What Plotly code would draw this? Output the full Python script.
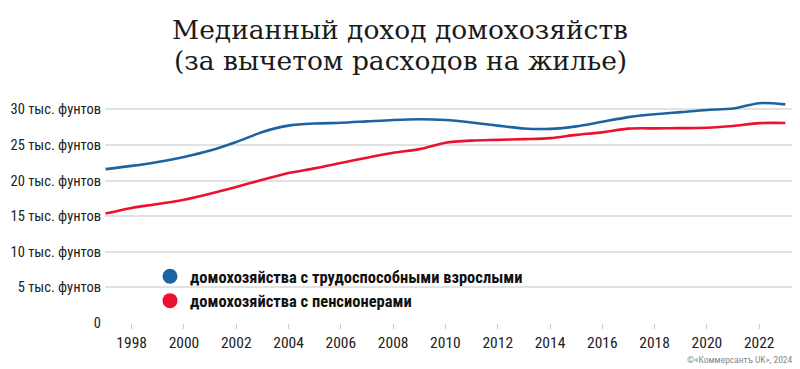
import plotly.graph_objects as go

years = list(range(1997, 2024))
working_age = [21.6, 22.05, 22.6, 23.3, 24.2, 25.4, 26.8, 27.7, 28.0, 28.1, 28.3, 28.5, 28.6,
               28.5, 28.15, 27.7, 27.3, 27.25, 27.6, 28.25, 28.9, 29.3, 29.6, 29.9, 30.1, 30.85, 30.68]
pensioners = [15.36, 16.15, 16.7, 17.3, 18.15, 19.1, 20.1, 21.05, 21.7, 22.45, 23.2, 23.9, 24.4,
              25.3, 25.6, 25.7, 25.8, 25.95, 26.4, 26.75, 27.28, 27.32, 27.35, 27.4, 27.65, 28.05, 28.08]

series_names = ["домохозяйства с трудоспособными взрослыми", "домохозяйства с пенсионерами"]
series_colors = ["#1c63a3", "#ec1131"]

y_tick_vals = [0, 5, 10, 15, 20, 25, 30]
y_tick_text = ["0", "5 тыс. фунтов", "10 тыс. фунтов", "15 тыс. фунтов", "20 тыс. фунтов",
               "25 тыс. фунтов", "30 тыс. фунтов"]
x_tick_vals = list(range(1998, 2023, 2))

title_lines = ["Медианный доход домохозяйств", "(за вычетом расходов на жилье)"]
credit = "©«Коммерсантъ UK», 2024"

COND = "Roboto Condensed, DejaVu Sans Condensed, sans-serif"

# the page body has an 8px margin, so the figure is drawn 8px in from the window corner
OFF = 8
W, H = 800 - OFF, 369 - OFF
# plot area in window pixels: x 105..795, y 95..323
L = 105 - OFF
R = 800 - 795
T = 95 - OFF
B = 369 - 323
pw = W - L - R
ph = H - T - B


def px_x(p):  # window pixel -> paper x
    return (p - OFF - L) / pw


def px_y(p):  # window pixel -> paper y
    return (H - B - (p - OFF)) / ph


fig = go.Figure()
for vals, name, col in zip([working_age, pensioners], series_names, series_colors):
    fig.add_trace(go.Scatter(x=years, y=vals, mode="lines", name=name, showlegend=False,
                             line=dict(color=col, width=2.6, shape="spline", smoothing=0.8),
                             hoverinfo="skip"))
for name, col in zip(series_names, series_colors):
    fig.add_trace(go.Scatter(x=[None], y=[None], mode="markers", name=name,
                             marker=dict(color=col, size=15, symbol="circle")))

fig.update_layout(
    width=W, height=H,
    margin=dict(l=L, r=R, t=T, b=B, autoexpand=False),
    paper_bgcolor="white", plot_bgcolor="white",
    showlegend=True,
    legend=dict(x=px_x(150), y=px_y(259), xanchor="left", yanchor="top",
                bgcolor="rgba(0,0,0,0)", traceorder="normal", tracegroupgap=0,
                font=dict(family=COND, size=16.5, color="#111", weight="bold"),
                itemsizing="trace"),
    xaxis=dict(range=[1996.98, 2023.37], tickvals=x_tick_vals, ticks="outside", ticklen=5,
               tickcolor="#cccccc", tickwidth=1, showgrid=False, zeroline=False, showline=False,
               tickfont=dict(family=COND, size=15.5, color="#222"), ticklabelstandoff=0),
    yaxis=dict(range=[0, 32], tickvals=y_tick_vals, ticktext=y_tick_text, showgrid=True,
               gridcolor="#e2e2e2", gridwidth=1.5, zeroline=False, showline=False,
               tickfont=dict(family=COND, size=14.5, color="#222"), ticklabelstandoff=3),
)

for i, line in enumerate(title_lines):
    fig.add_annotation(text=line, xref="paper", yref="paper", x=px_x(400),
                       y=px_y(29 + 32 * i), xanchor="center", yanchor="middle",
                       showarrow=False,
                       font=dict(family="DejaVu Serif, Liberation Serif, serif", size=26.5, color="#1a1a1a"))

fig.add_annotation(text=credit, xref="paper", yref="paper", x=px_x(795),
                   y=px_y(359.5), xanchor="right", yanchor="middle", showarrow=False,
                   font=dict(family=COND, size=9.5, color="#888"))

fig.write_html("out.html")
